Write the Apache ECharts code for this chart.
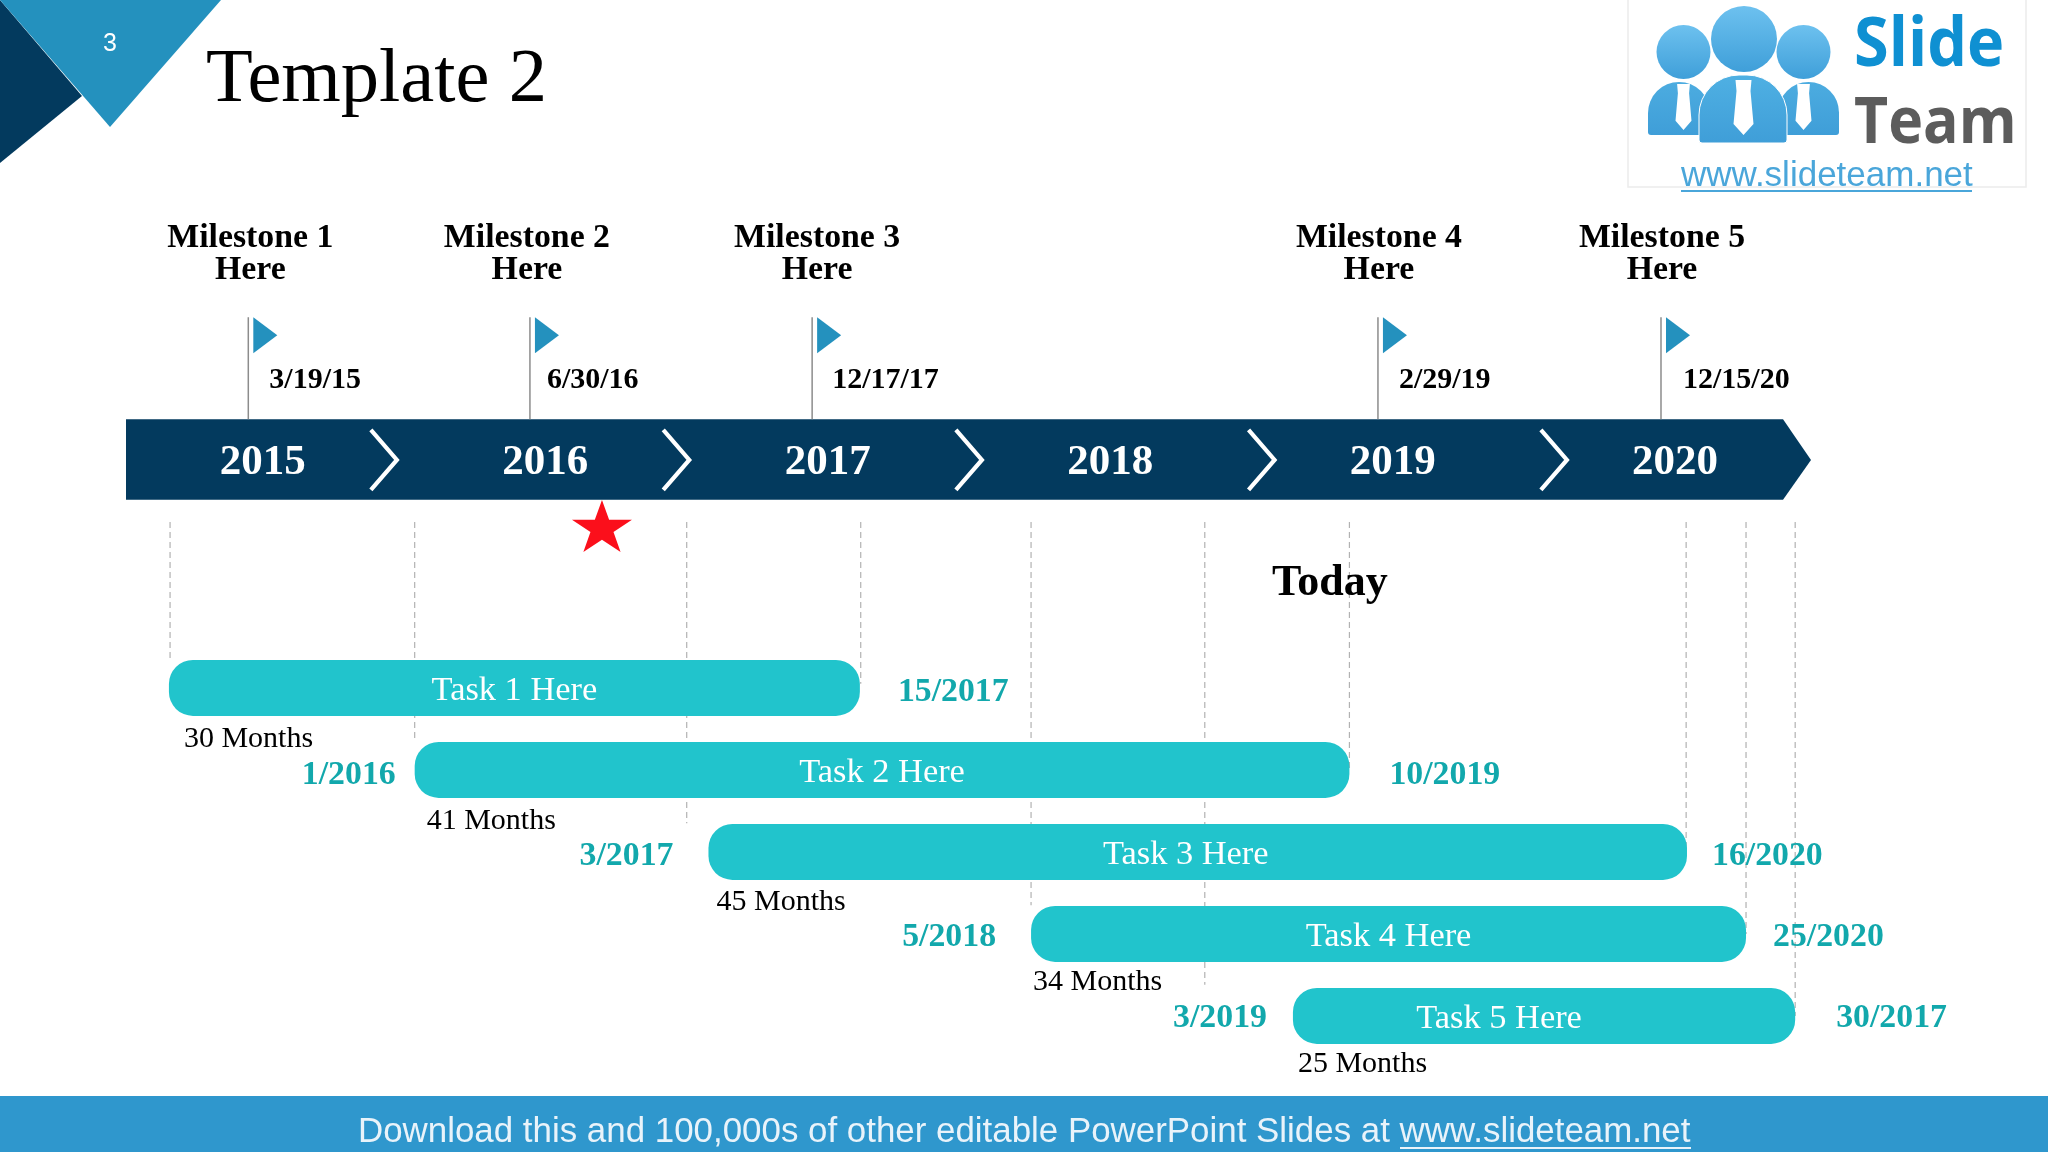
<!DOCTYPE html>
<html>
<head>
<meta charset="utf-8">
<title>Template 2</title>
<script src="https://cdn.jsdelivr.net/npm/echarts@6/dist/echarts.min.js"></script>
<style>
html, body { margin: 0; padding: 0; background: #fff; }
#chart { width: 2048px; height: 1152px; }
</style>
</head>
<body>
<div id="chart"></div>
<script>
// values; x values are years on the chevron timeline
var years = [2015, 2016, 2017, 2018, 2019, 2020];
var chevrons = [2015.475, 2016.51, 2017.546, 2018.582, 2019.617];
var milestoneNames = ['Milestone 1\nHere', 'Milestone 2\nHere', 'Milestone 3\nHere', 'Milestone 4\nHere', 'Milestone 5\nHere'];
var milestoneDates = ['3/19/15', '6/30/16', '12/17/17', '2/29/19', '12/15/20'];
var milestoneAt = [2014.949, 2015.946, 2016.945, 2018.948, 2019.95];
var taskNames = ['Task 1 Here', 'Task 2 Here', 'Task 3 Here', 'Task 4 Here', 'Task 5 Here'];
var taskRows = [1, 2, 3, 4, 5];
var taskStart = [2014.668, 2015.538, 2016.578, 2017.72, 2018.647];
var taskEnd = [2017.114, 2018.847, 2020.042, 2020.251, 2020.425];
var startLabels = ['', '1/2016', '3/2017', '5/2018', '3/2019'];
var endLabels = ['15/2017', '10/2019', '16/2020', '25/2020', '30/2017'];
var durations = ['30 Months', '41 Months', '45 Months', '34 Months', '25 Months'];
var guideAt = [2014.672, 2015.538, 2016.501, 2017.117, 2017.72, 2018.335, 2018.847, 2020.039, 2020.251, 2020.425];
var guideEnd = [0.66, 1.65, 2.65, 0.95, 3.65, 4.62, 2, 3, 4, 5];
var todayAt = 2018.778;

// layout, in pixels from the marks above
var milestoneTextDx = [2, -3, 5, 1, 1];
var dateDx = [21, 17, 20, 21, 22];
var nameDx = [0, 0, -12, 0, -45];
var startDx = [0, -19, -35, -35, -26];
var endDx = [38, 40, 25, 27, 41];
var endDy = [4, 5, 4, 3, 2];
var durationDx = [15, 12, 8, 2, 5];
var durationDy = [51, 51, 50, 48, 48];

var SERIF = '"Liberation Serif"';
var SANS = '"Liberation Sans"';
var NAVY = '#033a5e';
var BLUE = '#2491be';
var TEAL = '#21c4cc';
var TEAL_TEXT = '#12a8ac';

function label(x, y, text, font, fill, align) {
    return {
        type: 'text',
        style: { x: x, y: y, text: text, font: font, fill: fill, align: align || 'center', verticalAlign: 'middle' }
    };
}

function indexData(arr) {
    return arr.map(function (v, i) { return [v, i]; });
}

var guideSeries = {
    type: 'custom', coordinateSystem: 'cartesian2d', z: 1, silent: true,
    data: indexData(guideAt),
    renderItem: function (params, api) {
        var i = params.dataIndex;
        var a = api.coord([guideAt[i], -1.024]);
        var b = api.coord([guideAt[i], guideEnd[i]]);
        return {
            type: 'line',
            shape: { x1: a[0], y1: a[1], x2: b[0], y2: b[1] },
            style: { stroke: '#b2b2b2', lineWidth: 1.2, lineDash: [6, 4] }
        };
    }
};

var bandSeries = {
    type: 'custom', coordinateSystem: 'cartesian2d', z: 2, silent: true,
    data: [[2014.516, -1.78]],
    renderItem: function (params, api) {
        var l = api.coord([2014.516, -2.277]);
        var s = api.coord([2020.382, -1.296]);
        var t = api.coord([2020.481, -1.78]);
        return {
            type: 'polygon',
            shape: { points: [[l[0], l[1]], [s[0], l[1]], [t[0], t[1]], [s[0], s[1]], [l[0], s[1]]] },
            style: { fill: NAVY }
        };
    }
};

var chevronSeries = {
    type: 'custom', coordinateSystem: 'cartesian2d', z: 3, silent: true,
    data: indexData(chevrons),
    renderItem: function (params, api) {
        var p = api.coord([chevrons[params.dataIndex], -1.78]);
        return {
            type: 'polyline',
            shape: { points: [[p[0] - 26, p[1] - 30], [p[0], p[1]], [p[0] - 26, p[1] + 30]] },
            style: { stroke: '#fff', lineWidth: 4.2, fill: null }
        };
    }
};

var milestoneSeries = {
    type: 'custom', coordinateSystem: 'cartesian2d', z: 4, silent: true,
    data: indexData(milestoneAt),
    renderItem: function (params, api) {
        var i = params.dataIndex;
        var p = api.coord([milestoneAt[i], -2.277]);
        return {
            type: 'group',
            children: [
                {
                    type: 'line',
                    shape: { x1: p[0], y1: p[1] - 102, x2: p[0], y2: p[1] },
                    style: { stroke: '#8c8c8c', lineWidth: 1.5 }
                },
                {
                    type: 'polygon',
                    shape: { points: [[p[0] + 5, p[1] - 102], [p[0] + 29, p[1] - 84], [p[0] + 5, p[1] - 66]] },
                    style: { fill: BLUE }
                },
                {
                    type: 'text',
                    style: {
                        x: p[0] + milestoneTextDx[i], y: p[1] - 165, text: milestoneNames[i],
                        font: 'bold 33.8px ' + SERIF, lineHeight: 32.7, fill: '#000', align: 'center', verticalAlign: 'middle'
                    }
                },
                label(p[0] + dateDx[i], p[1] - 38.5, milestoneDates[i], 'bold 30px ' + SERIF, '#000', 'left')
            ]
        };
    }
};

var starSeries = {
    type: 'scatter', z: 4, silent: true,
    symbol: 'path://M50 0L61.8 35.5H99.5L69 57.6L80.7 93.5L50 71.3L19.3 93.5L31 57.6L.5 35.5H38.2Z',
    symbolSize: [60, 52],
    itemStyle: { color: '#fb0f1b', opacity: 1 },
    data: [[2016.201, -0.975]]
};

var todaySeries = {
    type: 'custom', coordinateSystem: 'cartesian2d', z: 4, silent: true,
    data: [[todayAt, -0.275]],
    renderItem: function (params, api) {
        var p = api.coord([todayAt, -0.275]);
        return label(p[0], p[1], 'Today', 'bold 44px ' + SERIF, '#000');
    }
};

var taskSeries = {
    type: 'custom', coordinateSystem: 'cartesian2d', z: 5, silent: true,
    data: taskRows.map(function (r, i) { return [taskStart[i], r, taskEnd[i]]; }),
    renderItem: function (params, api) {
        var i = params.dataIndex;
        var a = api.coord([taskStart[i], taskRows[i]]);
        var b = api.coord([taskEnd[i], taskRows[i]]);
        var children = [
            {
                type: 'rect',
                shape: { x: a[0], y: a[1] - 28, width: b[0] - a[0], height: 56, r: 24 },
                style: { fill: TEAL }
            },
            label((a[0] + b[0]) / 2 + nameDx[i], a[1] + 3.5, taskNames[i], '34.4px ' + SERIF, '#fff'),
            label(b[0] + endDx[i], a[1] + endDy[i], endLabels[i], 'bold 33.8px ' + SERIF, TEAL_TEXT, 'left'),
            label(a[0] + durationDx[i], a[1] + durationDy[i], durations[i], '30px ' + SERIF, '#000', 'left')
        ];
        if (startLabels[i]) {
            children.push(label(a[0] + startDx[i], a[1] + endDy[i], startLabels[i], 'bold 33.8px ' + SERIF, TEAL_TEXT, 'right'));
        }
        return { type: 'group', children: children };
    }
};

// logo and slide furniture
function tie(cx, top, w, h) {
    return {
        type: 'polygon', z: 12,
        shape: { points: [[cx - w * 0.4, top], [cx + w * 0.4, top], [cx + w * 0.35, top + h * 0.2], [cx + w * 0.5, top + h * 0.8], [cx, top + h], [cx - w * 0.5, top + h * 0.8], [cx - w * 0.35, top + h * 0.2]] },
        style: { fill: '#fff' }
    };
}

function vGrad(c1, c2) {
    return { type: 'linear', x: 0, y: 0, x2: 0, y2: 1, colorStops: [{ offset: 0, color: c1 }, { offset: 1, color: c2 }] };
}

var graphics = [
    { type: 'polygon', z: 10, shape: { points: [[0, 0], [82, 96], [0, 163]] }, style: { fill: NAVY } },
    { type: 'polygon', z: 11, shape: { points: [[0, 0], [221, 0], [110, 127]] }, style: { fill: BLUE } },
    { type: 'text', z: 12, style: { x: 110, y: 44, text: '3', font: '25px ' + SANS, fill: '#fff', align: 'center', verticalAlign: 'middle' } },
    { type: 'text', z: 12, style: { x: 206, y: 81, text: 'Template 2', font: '76.5px ' + SERIF, fill: '#000', align: 'left', verticalAlign: 'middle' } },

    { type: 'rect', z: 10, shape: { x: 1628, y: -2, width: 398, height: 189 }, style: { fill: '#fff', stroke: '#ececec', lineWidth: 1.5 } },
    { type: 'rect', z: 11, shape: { x: 1648, y: 82, width: 62, height: 53, r: [31, 31, 3, 3] }, style: { fill: vGrad('#4cace0', '#3f9ed8') } },
    { type: 'rect', z: 11, shape: { x: 1778, y: 82, width: 61, height: 53, r: [31, 31, 3, 3] }, style: { fill: vGrad('#4cace0', '#3f9ed8') } },
    { type: 'circle', z: 11, shape: { cx: 1683.5, cy: 52, r: 27 }, style: { fill: vGrad('#6dc1ef', '#3f9fd9') } },
    { type: 'circle', z: 11, shape: { cx: 1803.5, cy: 52, r: 27 }, style: { fill: vGrad('#6dc1ef', '#3f9fd9') } },
    { type: 'circle', z: 11, shape: { cx: 1744, cy: 39, r: 33 }, style: { fill: vGrad('#6dc1ef', '#3f9fd9') } },
    { type: 'rect', z: 11, shape: { x: 1699, y: 75, width: 88, height: 68, r: [40, 40, 3, 3] }, style: { fill: vGrad('#4fb0e3', '#3f9ed8'), stroke: '#fff', lineWidth: 1 } },
    tie(1683.5, 84, 16, 46),
    tie(1803.5, 84, 16, 46),
    tie(1743.5, 80, 20, 55),
    { type: 'text', z: 12, scaleY: 1.08, originX: 1854, originY: 47, style: { x: 1854, y: 47, text: 'Slide', font: 'bold 63px "Open Sans"', fill: '#0f90d2', align: 'left', verticalAlign: 'middle' } },
    { type: 'text', z: 12, scaleY: 1.09, originX: 1854, originY: 125, style: { x: 1854, y: 125, text: 'Team', font: 'bold 59px "Open Sans"', fill: '#5c5c5c', align: 'left', verticalAlign: 'middle' } },
    { type: 'text', z: 12, style: { x: 1681, y: 176, text: 'www.slideteam.net', font: '35px ' + SANS, fill: '#4aa6da', align: 'left', verticalAlign: 'middle' } },
    { type: 'rect', z: 12, shape: { x: 1681, y: 190, width: 291, height: 2 }, style: { fill: '#4aa6da' } },

    { type: 'rect', z: 10, shape: { x: 0, y: 1096, width: 2048, height: 56 }, style: { fill: '#2f97cd' } },
    { type: 'text', z: 12, style: { x: 358, y: 1132, text: 'Download this and 100,000s of other editable PowerPoint Slides at www.slideteam.net', font: '34.9px ' + SANS, fill: '#e9f3fa', align: 'left', verticalAlign: 'middle' } },
    { type: 'rect', z: 12, shape: { x: 1400, y: 1147, width: 291, height: 2 }, style: { fill: '#e9f3fa' } }
];

var myChart = echarts.init(document.getElementById('chart'), null, { renderer: 'canvas' });
myChart.setOption({
    animation: false,
    backgroundColor: '#fff',
    grid: { left: 0, right: 0, top: 0, bottom: 0 },
    xAxis: {
        type: 'value',
        min: 2014.07,
        max: 2021.32,
        position: 'top',
        offset: -463,
        z: 10,
        axisLine: { show: false },
        axisTick: { show: false },
        splitLine: { show: false },
        axisLabel: {
            customValues: years,
            margin: 0,
            showMinLabel: true,
            showMaxLabel: true,
            color: '#fff',
            fontFamily: SERIF,
            fontWeight: 'bold',
            fontSize: 43,
            verticalAlign: 'middle',
            formatter: function (v) { return String(v); }
        }
    },
    yAxis: {
        type: 'value',
        inverse: true,
        min: -7.39,
        max: 6.66,
        show: false,
        splitLine: { show: false }
    },
    graphic: { elements: graphics },
    series: [guideSeries, bandSeries, chevronSeries, milestoneSeries, starSeries, todaySeries, taskSeries]
});
</script>
</body>
</html>
